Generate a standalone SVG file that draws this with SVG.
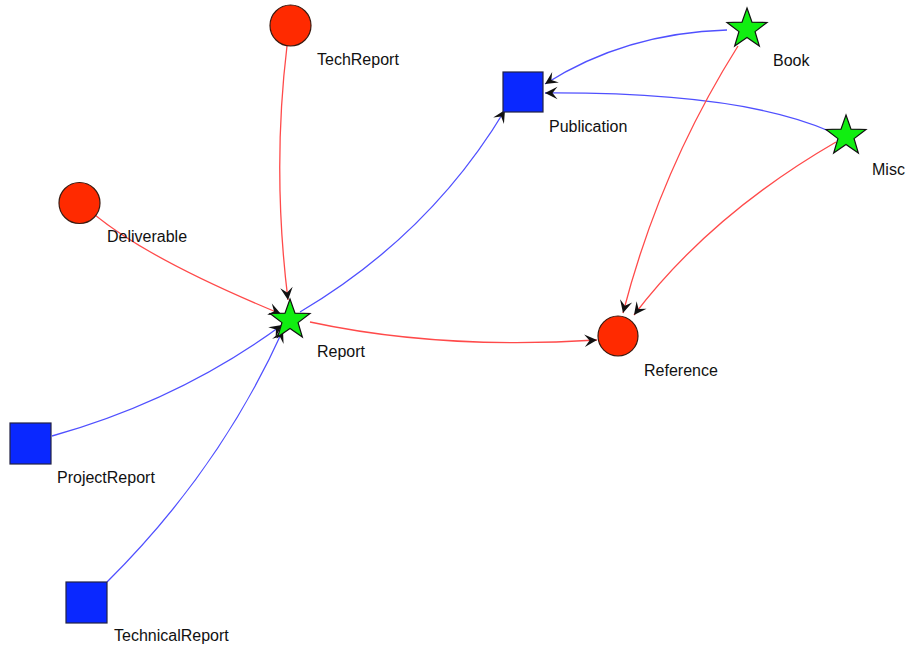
<svg xmlns="http://www.w3.org/2000/svg" xmlns:xlink="http://www.w3.org/1999/xlink" width="907" height="648" viewBox="0 0 907 648">
<style>
.lbl{font-family:"Liberation Sans",Arial,sans-serif;font-size:16px;fill:#111}
.circ{fill:#ff2a00;stroke:#3a1a10;stroke-width:1.2}
.sq{fill:#0a28ff;stroke:#222244;stroke-width:1.2}
.star{fill:#11ee11;stroke:#111;stroke-width:1.2}
.er{fill:none;stroke:#ff4a4a;stroke-width:1.3}
.eb{fill:none;stroke:#5050ff;stroke-width:1.3}
</style>
<defs>
<marker id="arr" markerUnits="userSpaceOnUse" markerWidth="15" markerHeight="15" viewBox="0 0 12 12" refX="11" refY="6" orient="auto">
<path d="M1,1 L11,6 L1,11 L5,6 z" fill="#111"/>
</marker>
<polygon id="starshape" points="0,-21 5,-6.88 19.97,-6.49 8.08,2.63 12.34,16.99 0,8.5 -12.34,16.99 -8.08,2.63 -19.97,-6.49 -5,-6.88"/>
</defs>
<rect width="907" height="648" fill="#fff"/>
<g id="connectors">
<path class="er" d="M287,46 Q272,170 288,300" marker-end="url(#arr)"/>
<path class="er" d="M95,215 Q150,260 281,314" marker-end="url(#arr)"/>
<path class="er" d="M310,322 Q440,350 597,340" marker-end="url(#arr)"/>
<path class="eb" d="M300,312 Q430,235 505,110" marker-end="url(#arr)"/>
<path class="eb" d="M52,436 Q180,400 282,325" marker-end="url(#arr)"/>
<path class="eb" d="M107,582 Q220,470 283,330" marker-end="url(#arr)"/>
<path class="eb" d="M727,30 Q625,33 545,84" marker-end="url(#arr)"/>
<path class="eb" d="M829,131 Q740,92 545,93" marker-end="url(#arr)"/>
<path class="er" d="M738,46 Q660,170 623,313" marker-end="url(#arr)"/>
<path class="er" d="M836,142 Q710,215 634,315" marker-end="url(#arr)"/>
</g>
<g id="TechReport"><circle class="circ" cx="290.5" cy="25.5" r="20.5"/><text class="lbl" x="317" y="65">TechReport</text></g>
<g id="Deliverable"><circle class="circ" cx="79.5" cy="203" r="20.5"/><text class="lbl" x="107" y="242">Deliverable</text></g>
<g id="Report"><use xlink:href="#starshape" class="star" transform="translate(290,320)"/><text class="lbl" x="317" y="357">Report</text></g>
<g id="Publication"><rect class="sq" x="503" y="72" width="40" height="40"/><text class="lbl" x="549" y="132">Publication</text></g>
<g id="Book"><use xlink:href="#starshape" class="star" transform="translate(747,29)"/><text class="lbl" x="773" y="66">Book</text></g>
<g id="Misc"><use xlink:href="#starshape" class="star" transform="translate(846,136)"/><text class="lbl" x="872" y="175">Misc</text></g>
<g id="Reference"><circle class="circ" cx="618" cy="336" r="20"/><text class="lbl" x="644" y="376">Reference</text></g>
<g id="ProjectReport"><rect class="sq" x="10" y="423" width="41" height="41"/><text class="lbl" x="57" y="483">ProjectReport</text></g>
<g id="TechnicalReport"><rect class="sq" x="66" y="582" width="41" height="41"/><text class="lbl" x="114" y="641">TechnicalReport</text></g>
</svg>
